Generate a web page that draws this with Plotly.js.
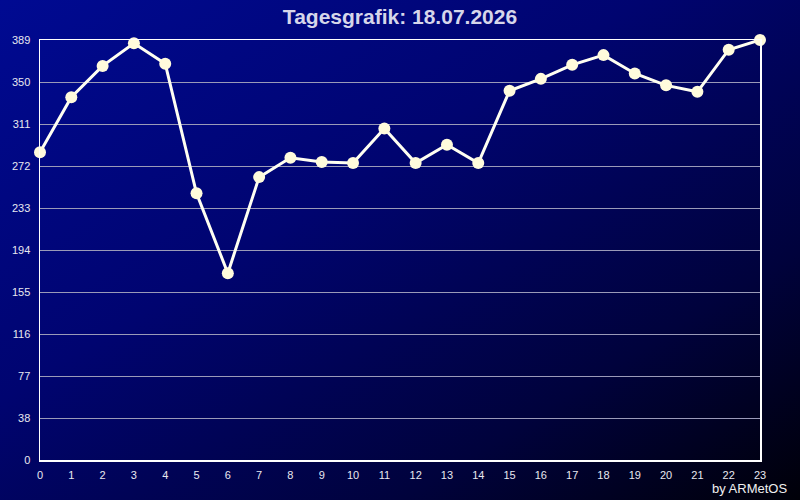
<!DOCTYPE html>
<html>
<head>
<meta charset="utf-8">
<script src="https://cdn.plot.ly/plotly-3.0.1.min.js"></script>
<style>
  html, body { margin: 0; padding: 0; background: #000; }
  #chart {
    width: 800px; height: 500px;
    background: linear-gradient(to bottom right, #000a92 0%, #000470 40%, #00023c 75%, #000008 100%);
  }
</style>
</head>
<body>
<div id="chart"></div>
<script>
// hours of the day and the readings per hour
const hours = [0, 1, 2, 3, 4, 5, 6, 7, 8, 9, 10, 11, 12, 13, 14, 15, 16, 17, 18, 19, 20, 21, 22, 23];
const values = [285, 336, 365, 386, 367, 247, 173, 262, 280, 276, 275, 307,
                275, 292, 275, 342, 353, 366, 375, 358, 347, 341, 380, 389];

// y axis labels as printed (ten equal steps up to the max)
const yMax = 389;
const yTickLabels = ['0', '38', '77', '116', '155', '194', '233', '272', '311', '350', '389'];
const yTickVals = yTickLabels.map((t, i) => i * yMax / (yTickLabels.length - 1));

const chartTitle = 'Tagesgrafik: 18.07.2026';
const creditText = 'by ARMetOS';

const trace = {
    x: hours,
    y: values,
    type: 'scatter',
    mode: 'lines+markers',
    line: { color: '#fffff2', width: 3 },
    marker: { color: '#fffbdc', size: 12 },
    cliponaxis: false,
    hoverinfo: 'x+y'
};

const layout = {
    width: 800,
    height: 500,
    paper_bgcolor: 'rgba(0,0,0,0)',
    plot_bgcolor: 'rgba(0,0,0,0)',
    margin: { l: 40, r: 40, t: 40, b: 40 },
    showlegend: false,
    font: { family: 'Liberation Sans, Arial, sans-serif', color: '#e8e8f0', size: 11 },
    title: {
        text: '<b>' + chartTitle + '</b>',
        font: { family: 'Liberation Sans, Arial, sans-serif', size: 21, color: '#d6d6ea' },
        x: 0.5,
        xanchor: 'center',
        y: 0.966,
        yanchor: 'middle'
    },
    xaxis: {
        range: [0, 23],
        tickvals: hours,
        ticktext: hours.map(String),
        showgrid: false,
        zeroline: false,
        showline: true,
        linecolor: '#ffffff',
        linewidth: 1.5,
        mirror: true,
        ticks: '',
        ticklabelstandoff: 4,
        tickfont: { size: 11, color: '#e8e8f0' }
    },
    yaxis: {
        range: [0, yMax],
        tickvals: yTickVals,
        ticktext: yTickLabels,
        showgrid: true,
        gridcolor: '#9a9ab8',
        gridwidth: 1,
        zeroline: false,
        showline: true,
        linecolor: '#ffffff',
        linewidth: 1.5,
        mirror: true,
        ticks: '',
        ticklabelstandoff: 6,
        tickfont: { size: 11, color: '#e8e8f0' }
    },
    annotations: [{
        text: creditText,
        xref: 'paper', yref: 'paper',
        x: 1.040, y: -0.067,
        xanchor: 'right', yanchor: 'middle',
        showarrow: false,
        font: { family: 'Liberation Sans, Arial, sans-serif', size: 13, color: '#f0f0f0' }
    }]
};

Plotly.newPlot('chart', [trace], layout, { displayModeBar: false, staticPlot: true });
</script>
</body>
</html>
